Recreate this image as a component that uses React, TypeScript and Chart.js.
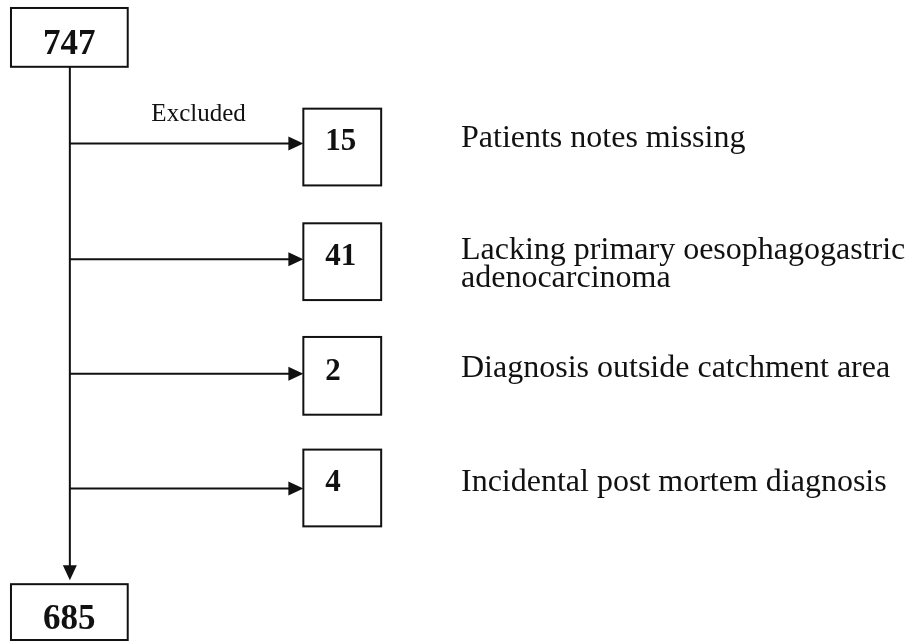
import React, { useEffect, useRef } from "react";
import { Chart, registerables } from "chart.js";
Chart.register(...registerables);

// ---- data ----
const startCount = 747;
const finalCount = 685;
const excludedCounts = [15, 41, 2, 4];
const excludedReasons = [
  ["Patients notes missing"],
  ["Lacking primary oesophagogastric", "adenocarcinoma"],
  ["Diagnosis outside catchment area"],
  ["Incidental post mortem diagnosis"],
];
const branchLabel = "Excluded";

// ---- layout (scale units, 918 x 644 space) ----
const W = 918;
const H = 644;
const spineX = 69;
const topBox = { x0: 10, x1: 127, y0: 7, y1: 66, base: 53 };
const bottomBox = { x0: 10, x1: 127, y0: 585, y1: 641, base: 630 };
const spineArrowTip = 581;
const branchY = [143, 259, 374, 489];
const sideBoxX = [303, 381];
const sideBoxTop = [108, 223, 337, 450];
const sideBoxBottom = [185, 300, 415, 527];
const numberBase = [149, 265, 380, 492];
const numberX = 325;
const reasonX = 461;
const reasonBase = [[146], [259, 287], [377], [492]];
const labelPos = { x: 198, base: 120 };

const INK = "#111111";
const ARROW_LEN = 15;
const ARROW_HALF = 7;

const flowPlugin = {
  id: "flow",
  afterDatasetsDraw(chart: any) {
    const ctx = chart.ctx as CanvasRenderingContext2D;
    const sx = (v: number) => chart.scales.x.getPixelForValue(v);
    const sy = (v: number) => chart.scales.y.getPixelForValue(v);
    ctx.save();
    ctx.strokeStyle = INK;
    ctx.fillStyle = INK;
    ctx.lineWidth = 2;

    const box = (x0: number, y0: number, x1: number, y1: number) => {
      ctx.strokeRect(sx(x0), sy(y0), sx(x1) - sx(x0), sy(y1) - sy(y0));
    };

    // main boxes
    box(topBox.x0, topBox.y0, topBox.x1, topBox.y1);
    box(bottomBox.x0, bottomBox.y0, bottomBox.x1, bottomBox.y1);

    ctx.textAlign = "center";
    ctx.textBaseline = "alphabetic";
    ctx.font = 'bold 35px "Liberation Serif", "Times New Roman", serif';
    ctx.fillText(String(startCount), sx((topBox.x0 + topBox.x1) / 2), sy(topBox.base));
    ctx.fillText(String(finalCount), sx((bottomBox.x0 + bottomBox.x1) / 2), sy(bottomBox.base));

    // spine arrow head
    ctx.beginPath();
    ctx.moveTo(sx(spineX), sy(spineArrowTip));
    ctx.lineTo(sx(spineX - ARROW_HALF), sy(spineArrowTip - ARROW_LEN));
    ctx.lineTo(sx(spineX + ARROW_HALF), sy(spineArrowTip - ARROW_LEN));
    ctx.closePath();
    ctx.fill();

    // side boxes, arrows, counts, reasons
    excludedCounts.forEach((n, i) => {
      box(sideBoxX[0], sideBoxTop[i], sideBoxX[1], sideBoxBottom[i]);
      const y = branchY[i];
      ctx.beginPath();
      ctx.moveTo(sx(sideBoxX[0]), sy(y));
      ctx.lineTo(sx(sideBoxX[0] - ARROW_LEN), sy(y - ARROW_HALF));
      ctx.lineTo(sx(sideBoxX[0] - ARROW_LEN), sy(y + ARROW_HALF));
      ctx.closePath();
      ctx.fill();

      ctx.textAlign = "left";
      ctx.font = 'bold 31px "Liberation Serif", "Times New Roman", serif';
      ctx.fillText(String(n), sx(numberX), sy(numberBase[i]));

      ctx.font = '32px "Liberation Serif", "Times New Roman", serif';
      excludedReasons[i].forEach((line, j) => {
        ctx.fillText(line, sx(reasonX), sy(reasonBase[i][j]));
      });
    });

    ctx.textAlign = "center";
    ctx.font = '25px "Liberation Serif", "Times New Roman", serif';
    ctx.fillText(branchLabel, sx(labelPos.x), sy(labelPos.base));
    ctx.restore();
  },
};

export default function App() {
  const ref = useRef<HTMLCanvasElement | null>(null);
  useEffect(() => {
    if (!ref.current) return;
    const lineDs = (pts: { x: number; y: number }[]) => ({
      data: pts,
      showLine: true,
      borderColor: INK,
      borderWidth: 2,
      pointRadius: 0,
      fill: false,
    });
    const datasets = [
      lineDs([
        { x: spineX, y: topBox.y1 },
        { x: spineX, y: spineArrowTip - ARROW_LEN + 2 },
      ]),
      ...branchY.map((y) =>
        lineDs([
          { x: spineX, y },
          { x: sideBoxX[0] - ARROW_LEN + 2, y },
        ])
      ),
    ];
    const chart = new Chart(ref.current, {
      type: "scatter",
      data: { datasets },
      options: {
        animation: false,
        responsive: false,
        maintainAspectRatio: false,
        layout: { padding: 0 },
        plugins: { legend: { display: false }, tooltip: { enabled: false } },
        scales: {
          x: { type: "linear", min: 0, max: W, display: false },
          y: { type: "linear", min: 0, max: H, reverse: true, display: false },
        },
      },
      plugins: [flowPlugin],
    } as any);
    let alive = true;
    if ((document as any).fonts && (document as any).fonts.ready) {
      (document as any).fonts.ready.then(() => {
        if (alive) chart.update();
      });
    }
    return () => {
      alive = false;
      chart.destroy();
    };
  }, []);
  return (
    <div style={{ position: "fixed", left: 0, top: 0, width: W, height: H, background: "#fff" }}>
      <canvas ref={ref} width={W} height={H} style={{ display: "block", width: W, height: H }} />
    </div>
  );
}
